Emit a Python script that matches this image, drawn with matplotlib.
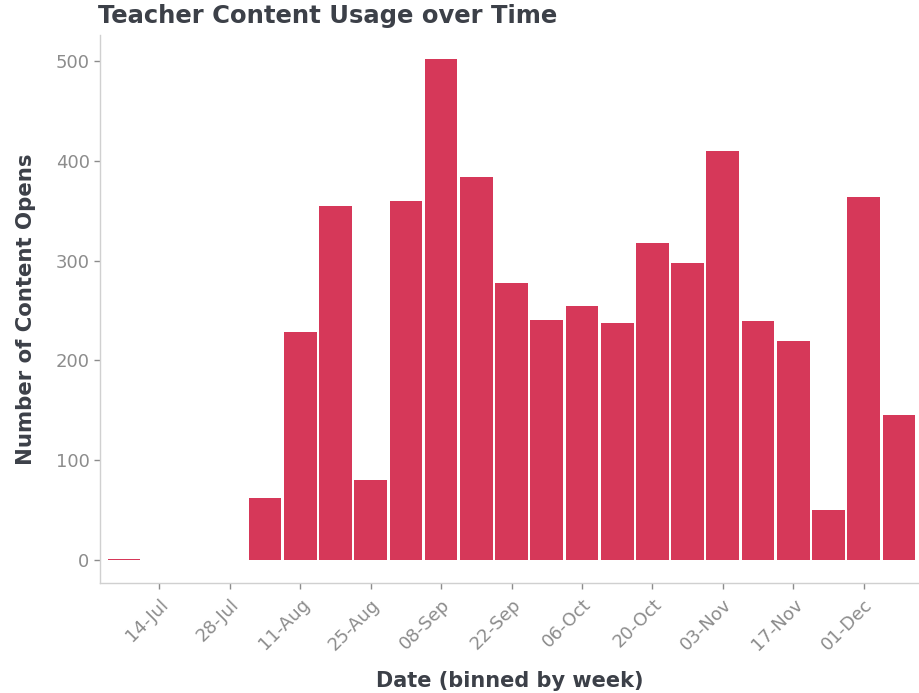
import matplotlib
matplotlib.use("Agg")
import matplotlib.pyplot as plt
import matplotlib.dates as mdates
import numpy as np
import pandas as pd

# weekly bins (week start dates) and content opens per week
weeks = pd.date_range("2019-07-07", periods=23, freq="7D")
opens = [1, 0, 0, 0, 62, 228, 355, 80, 360, 502, 384, 278, 240, 255, 237,
         318, 298, 410, 239, 219, 50, 364, 145]
tick_dates = pd.date_range("2019-07-14", periods=11, freq="14D")
tick_labels = [d.strftime("%d-%b") for d in tick_dates]

bar_color = "#d63859"
dark = "#3c4048"
grey = "#8c8c8c"

fig = plt.figure(figsize=(9.19, 6.93), dpi=100)
ax = fig.add_axes([100 / 919, 110 / 693, 819 / 919, 548 / 693])

ax.bar(weeks, opens, width=6.5, color=bar_color, edgecolor="none")

ax.set_xlim(weeks[0] - pd.Timedelta(days=4.8), weeks[0] + pd.Timedelta(days=158))
ax.set_ylim(-23, 526)
ax.set_yticks([0, 100, 200, 300, 400, 500])
ax.set_xticks(tick_dates)
ax.set_xticklabels(tick_labels, rotation=45, ha="right", rotation_mode="anchor")

for s in ["top", "right"]:
    ax.spines[s].set_visible(False)
for s in ["left", "bottom"]:
    ax.spines[s].set_color("#d0d0d0")
    ax.spines[s].set_linewidth(1.0)
ax.tick_params(axis="both", colors=grey, labelsize=13, length=4, width=1)
ax.tick_params(axis="x", pad=5)

ax.set_xlabel("Date (binned by week)", fontsize=15, fontweight="bold", color=dark, va="center")
ax.xaxis.set_label_coords((510 - 100) / 819, -(681 - 583) / 548)
ax.set_ylabel("Number of Content Opens", fontsize=15.3, fontweight="bold", color=dark, va="center")
ax.yaxis.set_label_coords(-(100 - 26) / 819, (583 - 309) / 548)
fig.text(98 / 919, 1 - 16 / 693, "Teacher Content Usage over Time", fontsize=17.5,
         fontweight="bold", color=dark, va="center", ha="left")

fig.savefig("out.png", dpi=100)
